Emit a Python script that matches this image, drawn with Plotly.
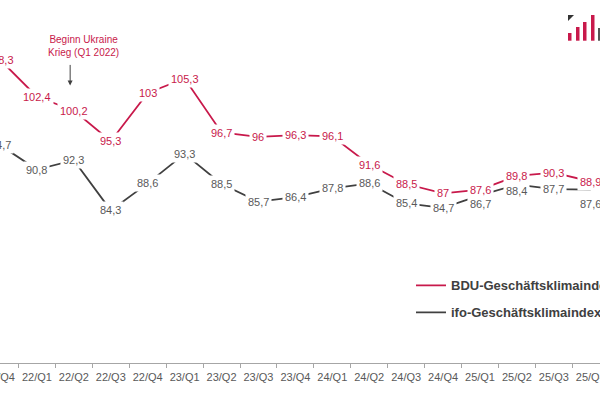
import plotly.graph_objects as go

quarters = ["21/Q4", "22/Q1", "22/Q2", "22/Q3", "22/Q4", "23/Q1", "23/Q2", "23/Q3",
            "23/Q4", "24/Q1", "24/Q2", "24/Q3", "24/Q4", "25/Q1", "25/Q2", "25/Q3", "25/Q4"]
bdu_values = [108.3, 102.4, 100.2, 95.3, 103.0, 105.3, 96.7, 96.0, 96.3, 96.1,
              91.6, 88.5, 87.0, 87.6, 89.8, 90.3, 88.9]
ifo_values = [94.7, 90.8, 92.3, 84.3, 88.6, 93.3, 88.5, 85.7, 86.4, 87.8,
              88.6, 85.4, 84.7, 86.7, 88.4, 87.7, 87.6]

BDU_NAME = "BDU-Geschäftsklimaindex"
IFO_NAME = "ifo-Geschäftsklimaindex"

RED = "#C8194B"
DARK = "#404040"
GREY_TXT = "#595959"
FONT = "Liberation Sans, Arial, sans-serif"

def fmt(v):
    s = ("%.1f" % v).rstrip("0").rstrip(".")
    return s.replace(".", ",")

fig = go.Figure()
fig.add_trace(go.Scatter(x=quarters, y=bdu_values, mode="lines", name=BDU_NAME,
                         line=dict(color=RED, width=1.8), legendgroup="a",
                         hoverinfo="skip"))
fig.add_trace(go.Scatter(x=quarters, y=ifo_values, mode="lines", name=IFO_NAME,
                         line=dict(color=DARK, width=1.8), legendgroup="b",
                         hoverinfo="skip"))

# label offsets (pixels, style only) for labels moved below their point
ifo_shift = {13: -9, 14: -6, 16: -14}

annotations = []
for i, (q, v) in enumerate(zip(quarters, bdu_values)):
    annotations.append(dict(x=q, y=v, text=fmt(v), showarrow=False,
                            font=dict(family=FONT, size=11, color=RED),
                            bgcolor="white", borderpad=2))
for i, (q, v) in enumerate(zip(quarters, ifo_values)):
    annotations.append(dict(x=q, y=v, text=fmt(v), showarrow=False,
                            yshift=ifo_shift.get(i, 0),
                            font=dict(family=FONT, size=11, color=GREY_TXT),
                            bgcolor="white", borderpad=2))

# event annotation
annotations.append(dict(x=1.9, y=104.2, xref="x", yref="y", text="", showarrow=True,
                        ax=0, ay=-22, arrowhead=2, arrowsize=1, arrowwidth=1,
                        arrowcolor=DARK))
annotations.append(dict(x=2.25, y=110.4, xref="x", yref="y",
                        text="Beginn Ukraine<br>Krieg (Q1 2022)", showarrow=False,
                        font=dict(family=FONT, size=10, color=RED)))

# logo decoration
W, H = 600.0, 363.0
def px(x):
    return x / W
def py(y):
    return (H - y) / H

shapes = []
for (x0, top) in [(568, 33), (576, 27), (583, 22), (591, 15)]:
    shapes.append(dict(type="rect", xref="paper", yref="paper",
                       x0=px(x0), x1=px(x0 + 3.5), y0=py(40.7), y1=py(top),
                       fillcolor=RED, line=dict(width=0)))
shapes.append(dict(type="rect", xref="paper", yref="paper",
                   x0=px(598), x1=px(601), y0=py(40.7), y1=py(28),
                   fillcolor="#555555", line=dict(width=0)))
shapes.append(dict(type="path", xref="paper", yref="paper",
                   path="M %f %f L %f %f L %f %f Z" % (px(568), py(15), px(574), py(15), px(568), py(21)),
                   fillcolor="#333333", line=dict(width=0)))

fig.update_layout(
    width=600, height=399,
    margin=dict(l=0, r=0, t=0, b=36, autoexpand=False),
    paper_bgcolor="white", plot_bgcolor="white",
    showlegend=True,
    legend=dict(x=0.685, y=0.255, xanchor="left", yanchor="top",
                bgcolor="rgba(0,0,0,0)", tracegroupgap=7,
                font=dict(family=FONT, size=13, color=DARK, weight="bold"),
                itemwidth=30),
    annotations=annotations,
    shapes=shapes,
    xaxis=dict(type="category", range=[0, 16.25], showgrid=False, zeroline=False,
               automargin=False, tickangle=0, ticklabelstandoff=4,
               showline=True, linecolor="#A6A6A6", linewidth=1,
               ticks="outside", tickson="boundaries", ticklen=4, tickcolor="#A6A6A6",
               tickfont=dict(family=FONT, size=11, color=GREY_TXT)),
    yaxis=dict(range=[60, 117.8], visible=False, showgrid=False, zeroline=False,
               automargin=False),
)

fig.write_html("out.html", config={"displayModeBar": False},
               post_script="document.body.style.margin='0';document.body.style.overflow='hidden';")
